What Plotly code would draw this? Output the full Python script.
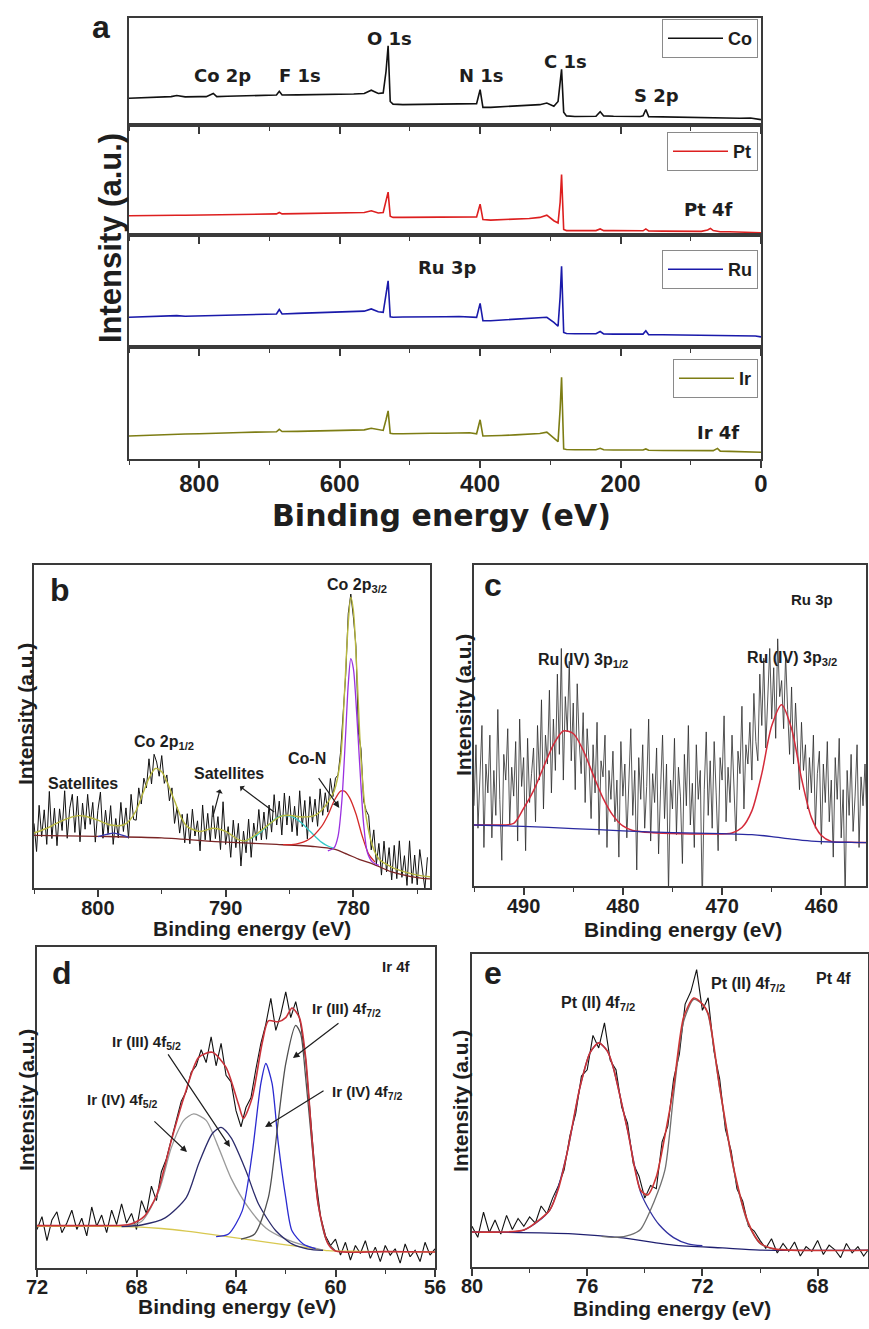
import plotly.graph_objects as go

# ------------------------------------------------------------------ data
SURVEY_BE = [900, 880, 860, 840, 832, 820, 800, 790, 780, 775,
             760, 740, 720, 700, 690, 686, 682, 660, 640, 620,
             600, 580, 565, 555, 545, 538, 534, 531, 528, 524,
             510, 490, 470, 450, 430, 415, 405, 400, 396, 385,
             370, 350, 330, 315, 305, 295, 289, 286, 284, 281,
             277, 265, 245, 235, 229, 224, 210, 190, 172, 168,
             164, 160, 140, 120, 100, 85, 76, 72, 68, 62,
             58, 45, 30, 15, 8, 0]
CO_SURVEY = [25, 25.5, 25.8, 26.5, 27.5, 26.3, 26.5, 26.5, 29.5, 26.5,
             26.8, 27.2, 27.5, 27.6, 28, 31.5, 28, 28.2, 28.3, 28.6,
             28.8, 29, 29.5, 32.5, 29.5, 30, 50, 74, 22, 19.5,
             19, 19.2, 19.3, 19.6, 19.5, 19.8, 20, 33, 16.5, 16.5,
             17, 17.5, 18, 19, 20.5, 17.5, 22, 40, 52, 12,
             8.5, 8, 8, 8.2, 12.5, 8.5, 8.2, 8, 8, 8.5,
             14.5, 7.8, 7.5, 7.3, 7, 6.8, 6.8, 6.8, 6.8, 6.5,
             6.5, 6.3, 6.3, 6.5, 6, 5]
PT_SURVEY = [17.5, 17.8, 17.8, 18, 18, 18, 18.2, 18.2, 18.5, 18.3,
             18.5, 18.7, 19, 19, 19.2, 20.5, 19.2, 19.4, 19.6, 19.8,
             20, 20.3, 20.5, 22, 20, 20.5, 30, 39, 17, 16,
             16, 16.2, 16.3, 16.3, 16.5, 16.5, 16.5, 28, 14, 13.5,
             13.8, 14.2, 15, 16, 18, 13, 11, 30, 55, 5,
             4, 4, 4, 4, 5.5, 4, 4, 3.8, 3.8, 3.8,
             5.5, 3.7, 3.5, 3.5, 3.4, 3.3, 4.5, 6, 4, 3.2,
             3, 3, 2.8, 2.6, 2.3, 2]
RU_SURVEY = [26.5, 27, 27, 27.5, 28, 27.5, 27.8, 28, 28, 28,
             28.5, 28.8, 29, 29.3, 29.5, 33.5, 29.5, 30, 30.3, 30.5,
             31, 31.3, 32, 34, 31.5, 31, 45, 59, 27, 26.5,
             26.8, 26.8, 26.5, 27, 27.2, 27, 26.5, 39, 23.5, 23.5,
             24, 24.5, 25, 25.8, 26.5, 22, 18.5, 45, 72, 13,
             12, 11.8, 11.8, 11.8, 13.8, 11.7, 11.5, 11.5, 11.4, 11.5,
             14.5, 11, 11, 10.8, 10.8, 10.7, 10.7, 10.6, 10.6, 10.5,
             10.5, 10.3, 10.2, 10, 9.8, 9]
IR_SURVEY = [20.5, 21, 21.5, 22, 22.5, 22.3, 22.5, 22.8, 23, 23,
             23.5, 23.7, 24, 24, 24.3, 26.5, 24.5, 24.7, 25, 25.3,
             25.5, 25.8, 26, 27.5, 26, 25.5, 35, 43, 23, 22.5,
             22.5, 23, 23, 23, 23.5, 23.5, 22.5, 35, 20.5, 20.5,
             21, 21.5, 22, 22.8, 24, 19, 15.5, 45, 73, 9,
             8.5, 8.2, 8.2, 8.2, 9.5, 8.2, 8, 8, 8, 8,
             9, 7.8, 7.6, 7.5, 7.5, 7.4, 7.3, 7.3, 7.5, 9.5,
             7, 6.8, 6.6, 6.5, 6.4, 6]
SURVEY_NAMES = ["Co", "Pt", "Ru", "Ir"]
SURVEY_COLORS = ["#111111", "#dd1f1f", "#1a1aaa", "#7d7d14"]
SURVEY_LABELS = [("Co 2p", 0, 767, 46.7), ("F 1s", 0, 656, 45.8), ("O 1s", 0, 529, 81.3),
                 ("N 1s", 0, 398, 46.7), ("C 1s", 0, 279, 58.9), ("S 2p", 0, 149, 28),
                 ("Pt 4f", 1, 75, 23.6), ("Ru 3p", 2, 447, 71.4), ("Ir 4f", 3, 61, 24.1)]

B_BE = [805.0, 804.8, 804.6, 804.4, 804.2, 804.0, 803.8, 803.6, 803.4, 803.2,
        803.0, 802.8, 802.6, 802.4, 802.2, 802.0, 801.8, 801.6, 801.4, 801.2,
        801.0, 800.8, 800.6, 800.4, 800.2, 800.0, 799.8, 799.6, 799.4, 799.2,
        799.0, 798.8, 798.6, 798.4, 798.2, 798.0, 797.8, 797.6, 797.4, 797.2,
        797.0, 796.8, 796.6, 796.4, 796.2, 796.0, 795.8, 795.6, 795.4, 795.2,
        795.0, 794.8, 794.6, 794.4, 794.2, 794.0, 793.8, 793.6, 793.4, 793.2,
        793.0, 792.8, 792.6, 792.4, 792.2, 792.0, 791.8, 791.6, 791.4, 791.2,
        791.0, 790.8, 790.6, 790.4, 790.2, 790.0, 789.8, 789.6, 789.4, 789.2,
        789.0, 788.8, 788.6, 788.4, 788.2, 788.0, 787.8, 787.6, 787.4, 787.2,
        787.0, 786.8, 786.6, 786.4, 786.2, 786.0, 785.8, 785.6, 785.4, 785.2,
        785.0, 784.8, 784.6, 784.4, 784.2, 784.0, 783.8, 783.6, 783.4, 783.2,
        783.0, 782.8, 782.6, 782.4, 782.2, 782.0, 781.8, 781.6, 781.4, 781.2,
        781.0, 780.8, 780.6, 780.4, 780.2, 780.0, 779.8, 779.6, 779.4, 779.2,
        779.0, 778.8, 778.6, 778.4, 778.2, 778.0, 777.8, 777.6, 777.4, 777.2,
        777.0, 776.8, 776.6, 776.4, 776.2, 776.0, 775.8, 775.6, 775.4, 775.2,
        775.0, 774.8, 774.6, 774.4, 774.2]
B_RAW = [20, 11.3, 25.6, 15.9, 24.2, 13.5, 29.9, 15.3, 24.7, 13.1,
         24.5, 17.8, 30.1, 15.4, 24.7, 29, 17.2, 28.4, 14.3, 26.3,
         18.2, 29, 19.7, 26.5, 14.2, 24, 29.7, 15.4, 24.1, 16.8,
         25.5, 13.5, 21.5, 15.5, 26.5, 17.5, 24.8, 15.4, 29, 21.2,
         21, 31, 26, 34, 31, 40, 32.2, 41.4, 39, 34.6,
         41, 32.4, 35, 27, 31, 20, 25, 17, 22.8, 14,
         23, 13.7, 24.4, 16.1, 20.8, 11.5, 25.7, 14.9, 23.1, 14.3,
         25.5, 15.3, 22.1, 11.9, 26.7, 13.5, 19, 9.5, 21, 12.5,
         20, 6.8, 17.6, 10.9, 21.3, 9.5, 20.1, 14.7, 24.3, 14.9,
         23.5, 15.1, 25.7, 17.3, 28.9, 19.5, 26.9, 16.4, 29.4, 19.5,
         28.5, 17.4, 25.3, 16.2, 30.1, 19, 27.1, 15.2, 28.3, 20.4,
         27.5, 19.1, 30.7, 22.5, 29.5, 23.5, 33.9, 28.3, 34, 35,
         42, 56, 66, 85, 91, 84, 75, 48, 43, 27,
         24, 22.4, 11.8, 18, 7.4, 13.8, 4, 14.5, 5, 12.5,
         2.5, 13.2, 2.9, 14.6, 3.3, 10, 0.8, 14.6, 1.4, 10.2,
         1, 11.9, 4.8, -0.3, 9.5]
B_ENV_BE = [805, 804, 803, 802, 801.5, 801, 800, 799, 798, 797.5,
            797, 796.5, 796, 795.5, 795, 794.5, 794, 793.5, 793, 792,
            791, 790, 789, 788.5, 788, 787, 786, 785.5, 785, 784,
            783, 782.5, 782, 781.5, 781, 780.7, 780.4, 780.2, 780, 779.7,
            779.4, 779, 778.5, 778, 777, 776, 775, 774]
B_ENV = [17, 18.5, 20.5, 22, 22.4, 22.2, 21, 19.5, 19.5, 21,
         24, 29, 34, 37, 36, 32, 27, 22, 19, 17.5,
         18.5, 17.5, 15, 14.6, 15.5, 18.5, 21.5, 22.4, 22.5, 22,
         22.5, 24, 26.5, 30, 40, 60, 82, 90, 86, 65,
         40, 22, 13, 9, 6.5, 5, 4, 3.5]
B_BG_BE = [805, 800, 795, 790, 786, 783, 781.5, 780.5, 779.5, 778.5, 777, 775, 774]
B_BG = [16.3, 16, 15.5, 14.2, 13.5, 12.8, 12, 10.5, 8.8, 7.5, 5, 3.2, 2.8]
B_P32_BE = [782, 781.5, 781.2, 780.9, 780.6, 780.4, 780.2, 780, 779.8, 779.5, 779.2, 778.9, 778.5, 778]
B_P32 = [11.5, 12.5, 16, 27, 48, 63, 71, 68, 58, 38, 20, 11, 8, 7]
B_CON_BE = [785.5, 784.5, 783.5, 782.5, 782, 781.5, 781, 780.7, 780.3, 779.8, 779.3, 778.8, 778.3]
B_CON = [13.4, 13.6, 15, 19, 22.5, 27, 30, 30, 28, 23, 16, 10.5, 8]
B_SAT_BE = [788.5, 787.5, 786.5, 786, 785.5, 785, 784.5, 784, 783.5, 783, 782.5, 782, 781.5]
B_SAT = [14.5, 16.5, 20, 21.7, 22.4, 22.3, 21.5, 20, 18, 16, 14.2, 13, 12.3]
B_SAT2_BE = [800, 799.3, 798.8, 798.3, 797.6]
B_SAT2 = [15.9, 16.6, 17, 16.6, 15.7]

C_BE = [495.0, 494.8, 494.6, 494.4, 494.2, 494.0, 493.8, 493.6, 493.4, 493.2,
        493.0, 492.8, 492.6, 492.4, 492.2, 492.0, 491.8, 491.6, 491.4, 491.2,
        491.0, 490.8, 490.6, 490.4, 490.2, 490.0, 489.8, 489.6, 489.4, 489.2,
        489.0, 488.8, 488.6, 488.4, 488.2, 488.0, 487.8, 487.6, 487.4, 487.2,
        487.0, 486.8, 486.6, 486.4, 486.2, 486.0, 485.8, 485.6, 485.4, 485.2,
        485.0, 484.8, 484.6, 484.4, 484.2, 484.0, 483.8, 483.6, 483.4, 483.2,
        483.0, 482.8, 482.6, 482.4, 482.2, 482.0, 481.8, 481.6, 481.4, 481.2,
        481.0, 480.8, 480.6, 480.4, 480.2, 480.0, 479.8, 479.6, 479.4, 479.2,
        479.0, 478.8, 478.6, 478.4, 478.2, 478.0, 477.8, 477.6, 477.4, 477.2,
        477.0, 476.8, 476.6, 476.4, 476.2, 476.0, 475.8, 475.6, 475.4, 475.2,
        475.0, 474.8, 474.6, 474.4, 474.2, 474.0, 473.8, 473.6, 473.4, 473.2,
        473.0, 472.8, 472.6, 472.4, 472.2, 472.0, 471.8, 471.6, 471.4, 471.2,
        471.0, 470.8, 470.6, 470.4, 470.2, 470.0, 469.8, 469.6, 469.4, 469.2,
        469.0, 468.8, 468.6, 468.4, 468.2, 468.0, 467.8, 467.6, 467.4, 467.2,
        467.0, 466.8, 466.6, 466.4, 466.2, 466.0, 465.8, 465.6, 465.4, 465.2,
        465.0, 464.8, 464.6, 464.4, 464.2, 464.0, 463.8, 463.6, 463.4, 463.2,
        463.0, 462.8, 462.6, 462.4, 462.2, 462.0, 461.8, 461.6, 461.4, 461.2,
        461.0, 460.8, 460.6, 460.4, 460.2, 460.0, 459.8, 459.6, 459.4, 459.2,
        459.0, 458.8, 458.6, 458.4, 458.2, 458.0, 457.8, 457.6, 457.4, 457.2,
        457.0, 456.8, 456.6, 456.4, 456.2, 456.0, 455.8, 455.6, 455.4]
C_RAW = [25, 44, 18, 33, 50, 12, 38, 29, 47, 15,
         36, 22, 55, 27, 8, 41, 33, 49, 19, 37,
         28, 45, 14, 52, 31, 40, 11, 46, 26, 35,
         43, 20, 50, 33, 58, 24, 47, 38, 61, 29,
         52, 36, 66, 41, 74, 33, 59, 48, 70, 39,
         57, 30, 63, 45, 35, 54, 26, 49, 38, 21,
         44, 29, 51, 16, 39, 34, 47, 12, 36, 27,
         42, 20, 33, 9, 45, 28, 38, 15, 31, 49,
         22, 36, 5, 40, 27, 44, 18, 31, 52, 14,
         35, 26, 43, 10, 30, 47, 21, 38, -2, 33,
         24, 46, 16, 37, 28, 7, 41, 25, 50, 19,
         32, 12, 44, 27, 36, -6, 30, 48, 22, 39,
         18, 45, 29, 11, 40, 33, 53, 20, 37, 26,
         47, 31, 14, 42, 35, 56, 24, 44, 38, 51,
         33, 60, 45, 39, 66, 50, 71, 43, 58, 74,
         52, 68, 46, 77, 59, 64, 49, 72, 55, 41,
         62, 38, 57, 45, 30, 51, 36, 44, 24, 40,
         29, 47, 18, 35, 42, 13, 38, 26, 45, 20,
         33, 9, 40, 27, 46, 15, 30, -4, 36, 22,
         41, 17, 28, 44, 12, 34, 25, 38, 19]
C_FIT_BE = [495, 493, 491, 490, 489, 488, 487, 486, 485, 484,
            483, 482, 481, 480, 479, 477, 474, 471, 469, 468,
            467, 466, 465, 464, 463, 462, 461, 460, 459, 457, 455]
C_FIT = [19, 19, 19.5, 24.2, 29.7, 37, 44, 48.3, 47.5, 42.3,
         34.7, 27.4, 22, 18.7, 17.3, 16.6, 16.3, 16.2, 16.5, 18.2,
         23.4, 35, 49.9, 56.5, 49, 33.5, 21.3, 15.7, 13.9, 13.6, 13.5]
C_BG_BE = [495, 490, 485, 480, 475, 470, 467, 465, 463, 461, 459, 457, 455]
C_BG = [19, 18.6, 17.9, 17.2, 16.6, 16.3, 16, 15.4, 14.6, 14, 13.7, 13.6, 13.5]

D_BE = [72.0, 71.8, 71.6, 71.4, 71.2, 71.0, 70.8, 70.6, 70.4, 70.2,
        70.0, 69.8, 69.6, 69.4, 69.2, 69.0, 68.8, 68.6, 68.4, 68.2,
        68.0, 67.8, 67.6, 67.4, 67.2, 67.0, 66.8, 66.6, 66.4, 66.2,
        66.0, 65.8, 65.6, 65.4, 65.2, 65.0, 64.8, 64.6, 64.4, 64.2,
        64.0, 63.8, 63.6, 63.4, 63.2, 63.0, 62.8, 62.6, 62.4, 62.2,
        62.0, 61.8, 61.6, 61.4, 61.2, 61.0, 60.8, 60.6, 60.4, 60.2,
        60.0, 59.8, 59.6, 59.4, 59.2, 59.0, 58.8, 58.6, 58.4, 58.2,
        58.0, 57.8, 57.6, 57.4, 57.2, 57.0, 56.8, 56.6, 56.4, 56.2, 56.0]
D_RAW = [12, 16, 8.5, 15, 17.5, 11, 14, 18, 12, 15.5,
         10, 19, 13, 16.5, 11, 18, 13.5, 20, 14, 17,
         12, 21, 17, 25.5, 21, 30, 34, 40, 46, 52,
         55, 61, 63, 68, 64, 72, 63, 70, 60, 58,
         49, 44, 50, 53, 62, 70, 76, 84, 74, 79,
         86, 78, 83, 76, 65, 45, 28, 16, 10, 7,
         9, 4, 8, 2.5, 7, 4.5, 8.5, 3, 6.5, 2,
         7, 4, 6, 1.5, 7.5, 3.5, 5.5, 2, 8, 4, 6]
D_ENV_BE = [72, 70, 68.6, 68.2, 67.7, 67.2, 66.6, 66.1, 65.5, 64.95,
            64.4, 63.9, 63.7, 63.35, 62.95, 62.7, 62.3, 62.0, 61.75, 61.45,
            61.2, 60.95, 60.7, 60.3, 60.0, 58, 56]
D_ENV = [13.2, 13.2, 13.3, 13.8, 16, 22.5, 39.7, 53, 65.6, 67.2,
         62.5, 51, 46.6, 53, 70, 77, 76.7, 78, 81, 78,
         65.6, 40.7, 20, 7.5, 5.3, 5.1, 5]
D_BG_BE = [72, 69, 68, 67, 66, 65, 64, 63, 62, 61, 60.3, 59, 56]
D_BG = [13, 13, 12.8, 12.3, 11.5, 10.5, 9.4, 8.3, 7.2, 6.2, 5.4, 5.2, 5]
D_IV52_BE = [68.6, 67.8, 67.1, 66.6, 66.1, 65.7, 65.2, 64.7, 64.2, 63.5, 62.8, 62.1, 61.2, 60.5]
D_IV52 = [13.0, 14.5, 24, 37.5, 46, 48, 46, 37.5, 28, 18.8, 12.5, 9.4, 6.9, 5.6]
D_III52_BE = [68.6, 67.8, 66.85, 66.0, 65.5, 64.95, 64.6, 64.2, 63.6, 63.1, 62.4, 61.75, 61.1, 60.5]
D_III52 = [12.9, 13.4, 15.6, 21.9, 32.5, 41.9, 43.8, 40.6, 30.3, 20, 11.6, 7.5, 5.9, 5.5]
D_IV72_BE = [64.8, 64.3, 63.75, 63.35, 63.0, 62.8, 62.55, 62.3, 62.0, 61.75, 61.3, 60.8]
D_IV72 = [9.8, 10.6, 17.8, 35.6, 57.5, 63.7, 57.5, 38.8, 21.9, 11.6, 7.5, 6]
D_III72_BE = [63.8, 63.25, 62.7, 62.3, 62.0, 61.6, 61.4, 61.2, 60.95, 60.7, 60.35, 60.0]
D_III72 = [9, 10.6, 21.9, 46, 63.7, 75.6, 73, 59.4, 38.8, 20, 8.4, 5.3]

E_BE = [80.0, 79.8, 79.6, 79.4, 79.2, 79.0, 78.8, 78.6, 78.4, 78.2,
        78.0, 77.8, 77.6, 77.4, 77.2, 77.0, 76.8, 76.6, 76.4, 76.2,
        76.0, 75.8, 75.6, 75.4, 75.2, 75.0, 74.8, 74.6, 74.4, 74.2,
        74.0, 73.8, 73.6, 73.4, 73.2, 73.0, 72.8, 72.6, 72.4, 72.2,
        72.0, 71.8, 71.6, 71.4, 71.2, 71.0, 70.8, 70.6, 70.4, 70.2,
        70.0, 69.8, 69.6, 69.4, 69.2, 69.0, 68.8, 68.6, 68.4, 68.2,
        68.0, 67.8, 67.6, 67.4, 67.2, 67.0, 66.8, 66.6, 66.4, 66.2]
E_RAW = [13, 9.5, 17.5, 11, 15, 10.5, 16.5, 12, 15.5, 13,
         16, 14, 19.5, 17, 22, 26, 31, 42, 49, 61,
         63, 74, 70, 78, 66, 63, 51, 46, 33, 29,
         22, 26, 25, 40, 45, 60, 68, 84, 88, 95,
         82, 86, 69, 60, 44, 37, 25, 21, 13, 11.5,
         8.5, 6, 9, 4.5, 7.5, 5, 8, 3.5, 6.5, 5,
         8.5, 4, 7, 5.5, 3, 7.5, 4.5, 6.5, 3.5, 6]
E_ENV_BE = [80, 78.2, 77.6, 77.3, 77.0, 76.7, 76.25, 75.9, 75.6, 75.3,
            75.1, 74.6, 74.15, 73.9, 73.6, 73.3, 73.0, 72.65, 72.3, 72.0,
            71.8, 71.4, 70.9, 70.4, 70.0, 69.5, 66]
E_ENV = [11.2, 11.8, 15.5, 18.2, 25, 36.4, 57.5, 68.5, 71.6, 69,
         63.9, 43.8, 24.6, 23, 28.8, 42, 57.5, 79.9, 85.9, 84,
         81, 57.5, 31, 14, 7.7, 5.8, 5.4]
E_BG_BE = [80, 76.5, 74.75, 73.0, 71.3, 70.0, 66]
E_BG = [11.2, 10.6, 9.3, 7, 6.1, 5.4, 5.4]
E_L_BE = [80, 78.2, 77.3, 76.7, 76.25, 75.9, 75.6, 75.3, 75.1, 74.6, 74.15, 73.8, 73.5, 73.0, 72.5, 72.0]
E_L = [11.2, 11.8, 18.2, 36.4, 57.5, 68.5, 71.6, 69, 63.9, 43.8, 24, 17.5, 13.5, 9.4, 7.4, 6.8]
E_R_BE = [75.5, 75.0, 74.5, 74.15, 73.7, 73.3, 73.0, 72.65, 72.3, 72.0, 71.8, 71.4, 70.9, 70.4, 70.0, 69.5]
E_R = [9.8, 9.5, 10.3, 12, 20.4, 31, 55, 78.5, 85.5, 84, 80.5, 57, 30.5, 13.5, 7.5, 5.6]

# ------------------------------------------------------------------ layout helpers
W, H = 869, 1329
FONT = "Liberation Sans, Arial, Helvetica, sans-serif"
WIDE = "DejaVu Sans, Verdana, sans-serif"
INK = "#1e1e1e"
FRAME = "#3a3a3a"


def fx(p):
    return p / W


def fy(p):
    return 1 - p / H


def xaxis(dom, anchor, rng, dtick, minor, show_labels, size, standoff):
    return dict(domain=[fx(dom[0]), fx(dom[1])], anchor=anchor, range=rng,
                tickmode="linear", tick0=0, dtick=dtick, ticks="outside",
                ticklen=7, tickwidth=1.6, tickcolor=FRAME,
                minor=dict(dtick=minor, ticks="outside", ticklen=4, tickwidth=1.4,
                           tickcolor=FRAME, showgrid=False),
                showticklabels=show_labels, ticklabelstandoff=standoff,
                tickfont=dict(family=FONT, size=size, color=INK, weight="bold"),
                showline=True, linecolor=FRAME, linewidth=1.6, mirror=True,
                showgrid=False, zeroline=False, fixedrange=True, automargin=False)


def yaxis(dom, anchor, rng=(0, 100)):
    return dict(domain=[fy(dom[1]), fy(dom[0])], anchor=anchor, range=list(rng),
                showticklabels=False, ticks="", showline=True, linecolor=FRAME,
                linewidth=1.6, mirror=True, showgrid=False, zeroline=False,
                fixedrange=True, automargin=False)


def text(t, x, y, xref, yref, size, angle=0, family=FONT):
    return dict(text=t, x=x, y=y, xref=xref, yref=yref, showarrow=False,
                textangle=angle, xanchor="center", yanchor="middle",
                font=dict(family=family, size=size, color=INK, weight="bold"))


def arrow(x, y, ax, ay, xr, yr, side="end"):
    return dict(text="", x=x, y=y, ax=ax, ay=ay, xref=xr, yref=yr, axref=xr,
                ayref=yr, showarrow=True, arrowhead=2, arrowsize=1.1,
                arrowwidth=1.2, arrowcolor=INK, arrowside=side)


fig = go.Figure()
layout = {}
ann = []

# ------------------------------------------------------------------ panel a
A_X = (129, 761)
A_ROWS = [(18, 125), (125, 235), (235, 347), (347, 459)]
A_LEG_TOP = [19, 132, 250, 359]
series = [CO_SURVEY, PT_SURVEY, RU_SURVEY, IR_SURVEY]
for i in range(4):
    n = i + 1
    xs = "x" if n == 1 else f"x{n}"
    ys = "y" if n == 1 else f"y{n}"
    lg = "legend" if n == 1 else f"legend{n}"
    layout["xaxis" if n == 1 else f"xaxis{n}"] = xaxis(A_X, ys, [900, 0], 200, 100, i == 3, 24, -5)
    layout["yaxis" if n == 1 else f"yaxis{n}"] = yaxis(A_ROWS[i], xs)
    fig.add_trace(go.Scatter(x=SURVEY_BE, y=series[i], mode="lines", name=SURVEY_NAMES[i],
                             line=dict(color=SURVEY_COLORS[i], width=1.6),
                             xaxis=xs, yaxis=ys, legend=lg, showlegend=True))
    layout[lg] = dict(x=fx(758), xanchor="right", y=fy(A_LEG_TOP[i]), yanchor="top",
                      bgcolor="white", bordercolor="#8a8a8a", borderwidth=1,
                      font=dict(family=FONT, size=18, color=INK, weight="bold"),
                      itemwidth=55, tracegroupgap=0)

for t, p, be, h in SURVEY_LABELS:
    n = p + 1
    ann.append(text(t, be, h, "x" if n == 1 else f"x{n}", "y" if n == 1 else f"y{n}", 18,
                    family=WIDE))

ann.append(text("a", fx(101), fy(27), "paper", "paper", 32))
ann.append(text("Intensity (a.u.)", fx(110), fy(238), "paper", "paper", 31, angle=-90))
ann.append(text("Binding energy (eV)", fx(441), fy(515), "paper", "paper", 30, family=WIDE))

# ------------------------------------------------------------------ panel b
layout["xaxis5"] = xaxis((34, 430), "y5", [805, 774], 10, 5, True, 20, -6)
layout["yaxis5"] = yaxis((565, 888), "x5")
b_traces = [(B_BE, B_RAW, "#111111", 1.0),
            (B_BG_BE, B_BG, "#7a2525", 1.3),
            (B_SAT_BE, B_SAT, "#35c8c8", 1.3),
            (B_CON_BE, B_CON, "#d42a2a", 1.3),
            (B_P32_BE, B_P32, "#9a30e0", 1.3),
            (B_SAT2_BE, B_SAT2, "#3a3ab0", 1.3),
            (B_ENV_BE, B_ENV, "#b8b840", 1.4)]
for k, (xv, yv, c, w) in enumerate(b_traces):
    fig.add_trace(go.Scatter(x=xv, y=yv, mode="lines", showlegend=False,
                             line=dict(color=c, width=w, shape="linear" if k == 0 else "spline",
                                       smoothing=0.8),
                             xaxis="x5", yaxis="y5"))
ann += [text("b", fx(60), fy(590), "paper", "paper", 32),
        text("Intensity (a.u.)", fx(25), fy(714), "paper", "paper", 21, angle=-90),
        text("Binding energy (eV)", fx(252), fy(928), "paper", "paper", 21),
        text("Co 2p<sub>3/2</sub>", 779.7, 93.8, "x5", "y5", 16),
        text("Co 2p<sub>1/2</sub>", 794.8, 45.2, "x5", "y5", 16),
        text("Satellites", 801.2, 32.5, "x5", "y5", 16),
        text("Satellites", 789.7, 35.6, "x5", "y5", 16),
        text("Co-N", 783.6, 40.2, "x5", "y5", 16),
        arrow(781.1, 24.8, 782.8, 34.5, "x5", "y5"),
        arrow(791.0, 22, 790.4, 31.0, "x5", "y5", side="start"),
        arrow(786.2, 23.5, 789.0, 31.8, "x5", "y5", side="start")]

# ------------------------------------------------------------------ panel c
layout["xaxis6"] = xaxis((474, 866), "y6", [495, 455.5], 10, 5, True, 20, -6)
layout["yaxis6"] = yaxis((565, 886), "x6")
c_traces = [(C_BE, C_RAW, "#2a2a2a", 0.8, "linear"),
            (C_FIT_BE, C_FIT, "#d42a3a", 1.5, "spline"),
            (C_BG_BE, C_BG, "#2a2aa0", 1.3, "spline")]
for xv, yv, c, w, s in c_traces:
    fig.add_trace(go.Scatter(x=xv, y=yv, mode="lines", showlegend=False,
                             line=dict(color=c, width=w, shape=s, smoothing=0.8),
                             xaxis="x6", yaxis="y6"))
ann += [text("c", fx(493), fy(585), "paper", "paper", 32),
        text("Intensity (a.u.)", fx(463), fy(705), "paper", "paper", 21, angle=-90),
        text("Binding energy (eV)", fx(683), fy(929), "paper", "paper", 21),
        text("Ru 3p", 460.9, 89.1, "x6", "y6", 15),
        text("Ru (IV) 3p<sub>1/2</sub>", 484.0, 70.4, "x6", "y6", 16),
        text("Ru (IV) 3p<sub>3/2</sub>", 463.0, 71, "x6", "y6", 16)]

# ------------------------------------------------------------------ panel d
layout["xaxis7"] = xaxis((37, 435), "y7", [72, 56], 4, 2, True, 20, -7)
layout["yaxis7"] = yaxis((947, 1268), "x7")
d_traces = [(D_BE, D_RAW, "#111111", 1.1, "linear"),
            (D_BG_BE, D_BG, "#d8c850", 1.3, "spline"),
            (D_IV52_BE, D_IV52, "#9a9a9a", 1.3, "spline"),
            (D_III52_BE, D_III52, "#2b2b6b", 1.3, "spline"),
            (D_IV72_BE, D_IV72, "#2a2ad0", 1.3, "spline"),
            (D_III72_BE, D_III72, "#505050", 1.3, "spline"),
            (D_ENV_BE, D_ENV, "#c8323a", 1.6, "spline")]
for xv, yv, c, w, s in d_traces:
    fig.add_trace(go.Scatter(x=xv, y=yv, mode="lines", showlegend=False,
                             line=dict(color=c, width=w, shape=s, smoothing=0.7),
                             xaxis="x7", yaxis="y7"))
ann += [text("d", fx(62), fy(973), "paper", "paper", 32),
        text("Intensity (a.u.)", fx(26), fy(1100), "paper", "paper", 21, angle=-90),
        text("Binding energy (eV)", fx(237), fy(1306), "paper", "paper", 21),
        text("Ir 4f", 57.53, 93.8, "x7", "y7", 15),
        text("Ir (III) 4f<sub>7/2</sub>", 59.54, 80.4, "x7", "y7", 15),
        text("Ir (III) 4f<sub>5/2</sub>", 67.58, 70.4, "x7", "y7", 15),
        text("Ir (IV) 4f<sub>5/2</sub>", 68.58, 52.3, "x7", "y7", 15),
        text("Ir (IV) 4f<sub>7/2</sub>", 58.73, 54.8, "x7", "y7", 15),
        arrow(61.71, 65.4, 59.82, 76.6, "x7", "y7"),
        arrow(64.24, 37.7, 66.77, 67.0, "x7", "y7"),
        arrow(65.97, 36.1, 67.34, 46.1, "x7", "y7"),
        arrow(62.83, 43.9, 60.42, 55.5, "x7", "y7")]

# ------------------------------------------------------------------ panel e
layout["xaxis8"] = xaxis((472, 868), "y8", [80, 66.25], 4, 2, True, 20, -7)
layout["yaxis8"] = yaxis((954, 1267), "x8")
e_traces = [(E_BE, E_RAW, "#111111", 1.1, "linear"),
            (E_BG_BE, E_BG, "#1f1f70", 1.3, "spline"),
            (E_L_BE, E_L, "#3030a0", 1.3, "spline"),
            (E_R_BE, E_R, "#707070", 1.3, "spline"),
            (E_ENV_BE, E_ENV, "#cc3535", 1.6, "spline")]
for xv, yv, c, w, s in e_traces:
    fig.add_trace(go.Scatter(x=xv, y=yv, mode="lines", showlegend=False,
                             line=dict(color=c, width=w, shape=s, smoothing=0.7),
                             xaxis="x8", yaxis="y8"))
ann += [text("e", fx(493), fy(973), "paper", "paper", 32),
        text("Intensity (a.u.)", fx(460), fy(1101), "paper", "paper", 21, angle=-90),
        text("Binding energy (eV)", fx(672), fy(1308), "paper", "paper", 21),
        text("Pt 4f", 67.44, 92.3, "x8", "y8", 16),
        text("Pt (II) 4f<sub>7/2</sub>", 75.62, 84.3, "x8", "y8", 16),
        text("Pt (II) 4f<sub>7/2</sub>", 70.4, 90.1, "x8", "y8", 16)]

# size follows the browser window (no fixed width/height in the layout)
fig.update_layout(autosize=True, margin=dict(l=0, r=0, t=0, b=0, pad=0),
                  paper_bgcolor="white", plot_bgcolor="white",
                  annotations=ann, **layout)
POST = ("document.documentElement.style.margin='0';"
        "document.documentElement.style.padding='0';"
        "document.body.style.margin='0';document.body.style.padding='0';"
        "document.body.style.overflow='hidden';"
        "var gd=document.getElementById('{plot_id}');"
        "gd.style.width='100vw';gd.style.height='100vh';"
        "Plotly.Plots.resize(gd);")
fig.write_html("out.html", config={"displayModeBar": False, "responsive": True},
               default_width="100vw", default_height="100vh", post_script=POST)
